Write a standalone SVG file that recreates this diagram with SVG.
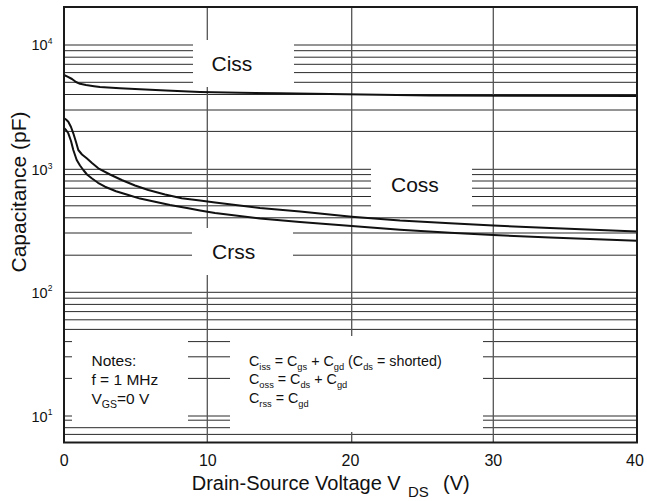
<svg xmlns="http://www.w3.org/2000/svg" width="647" height="501" viewBox="0 0 647 501">
<style>
text{font-family:"Liberation Sans",Arial,sans-serif;fill:#111}
.g{stroke:#2a2a2a;stroke-width:1;fill:none}
.v{stroke:#555;stroke-width:1.3;fill:none}
.box{fill:#fff;stroke:none}
.curve{fill:none;stroke:#111;stroke-width:2;stroke-linejoin:round;stroke-linecap:round}
.lbl{font-size:21px}
.tick{font-size:14.5px}
.sup{font-size:8.5px}
.xt{font-size:16px;text-anchor:middle}
.note{font-size:15.5px}
.fm{font-size:14.3px}
.sb{font-size:9.3px}
</style>
<rect width="647" height="501" fill="#fff"/>
<g id="grid">
<path class="g" d="M64,45H637M64,50.7H637M64,57.2H637M64,64.3H637M64,72.6H637M64,82.3H637M64,94.5H637M64,110H637M64,131.4H637M64,169.3H637M64,174.6H637M64,181H637M64,188.2H637M64,196.5H637M64,205.8H637M64,217.8H637M64,233H637M64,255.2H637M64,292.3H637M64,298.2H637M64,304.4H637M64,311.6H637M64,319.8H637M64,329.4H637M64,341.6H637M64,356.8H637M64,378.4H637M64,416H637M64,420.2H637M64,427.7H637M64,434.4H637"/>
<path class="v" d="M207.3,7V442M351.7,7V442M493.3,7V442"/>
</g>
<g id="label-ciss">
<rect class="box" x="193" y="40" width="101" height="47"/>
<text class="lbl" x="211.5" y="71">Ciss</text>
</g>
<g id="label-coss">
<rect class="box" x="371" y="150" width="101" height="61"/>
<text class="lbl" x="391" y="191.5">Coss</text>
</g>
<g id="label-crss">
<rect class="box" x="192" y="228" width="101" height="47"/>
<text class="lbl" x="212" y="259">Crss</text>
</g>
<g id="notes">
<rect class="box" x="72" y="335" width="116" height="89"/>
<text class="note" x="91.5" y="365.5">Notes:</text>
<text class="note" x="91.5" y="384.8">f = 1 MHz</text>
<text class="note" x="91.5" y="403.5">V<tspan font-size="10.5px" dy="4">GS</tspan><tspan dy="-4">=0 V</tspan></text>
</g>
<g id="formulas">
<rect class="box" x="230" y="336" width="253" height="96"/>
<text class="fm" x="249" y="365.7">C<tspan class="sb" dy="4">iss</tspan><tspan dy="-4"> = C</tspan><tspan class="sb" dy="4">gs</tspan><tspan dy="-4"> + C</tspan><tspan class="sb" dy="4">gd</tspan><tspan dy="-4"> (C</tspan><tspan class="sb" dy="4">ds</tspan><tspan dy="-4"> = shorted)</tspan></text>
<text class="fm" x="249" y="384.3">C<tspan class="sb" dy="4">oss</tspan><tspan dy="-4"> = C</tspan><tspan class="sb" dy="4">ds</tspan><tspan dy="-4"> + C</tspan><tspan class="sb" dy="4">gd</tspan></text>
<text class="fm" x="249" y="402.7">C<tspan class="sb" dy="4">rss</tspan><tspan dy="-4"> = C</tspan><tspan class="sb" dy="4">gd</tspan></text>
</g>
<g id="curves">
<path id="ciss" class="curve" d="M64,75 L68,76.8 L72,79 L76,82 L80,83.8 L86,85 L94,86.2 L100,87 L120,88.3 L140,89.3 L166,90.6 L200,92 L240,92.8 L280,93.3 L346,94.3 L430,95.5 L637,96"/>
<path id="coss" class="curve" d="M64.5,118.5 L66,119.5 L68.3,121.7 L71,127 L73.3,133.3 L76,142 L78.3,150 L82,154.5 L86.7,158.3 L92,163 L98.3,168.3 L110,174.5 L121.7,180 L135,185.5 L148.3,190 L165,194.5 L181.7,198.3 L200,200.5 L215,202.5 L260,208 L300,211.5 L351.7,216.7 L400,220.5 L450,223.3 L493.3,225.5 L550,228 L637,231.5"/>
<path id="crss" class="curve" d="M64.5,128.5 L66,130 L68.3,133.3 L71,141 L73.3,150 L76.7,160 L80,165.5 L83.3,170 L87,174.5 L91.7,178.3 L98,182.8 L105,186.7 L116,191.2 L128.3,195 L140,198.6 L155,201.7 L170,205 L188.3,208.3 L200,210.5 L215,213 L260,218.5 L300,222 L351.7,226 L400,229.8 L450,232.7 L493.3,235 L550,237.5 L637,240.7"/>
</g>
<g id="frame">
<rect x="64" y="7" width="573" height="435.5" fill="none" stroke="#1a1a1a" stroke-width="2"/>
</g>
<g id="y-axis">
<text class="tick" x="31.5" y="50">10<tspan class="sup" dy="-6.5">4</tspan></text>
<text class="tick" x="31.5" y="175">10<tspan class="sup" dy="-6.5">3</tspan></text>
<text class="tick" x="31.5" y="297.5">10<tspan class="sup" dy="-6.5">2</tspan></text>
<text class="tick" x="31.5" y="421.5">10<tspan class="sup" dy="-6.5">1</tspan></text>
<text font-size="21px" text-anchor="middle" transform="translate(26,192) rotate(-90)">Capacitance (pF)</text>
</g>
<g id="x-axis">
<text class="xt" x="64.2" y="465.5">0</text>
<text class="xt" x="207.8" y="465.5">10</text>
<text class="xt" x="350.5" y="465.5">20</text>
<text class="xt" x="493.3" y="465.5">30</text>
<text class="xt" x="635" y="465.5">40</text>
<text font-size="20px" x="191.7" y="489.5">Drain-Source Voltage V<tspan font-size="15px" x="408" y="497">DS</tspan><tspan x="443" y="489.5">(V)</tspan></text>
</g>
</svg>
